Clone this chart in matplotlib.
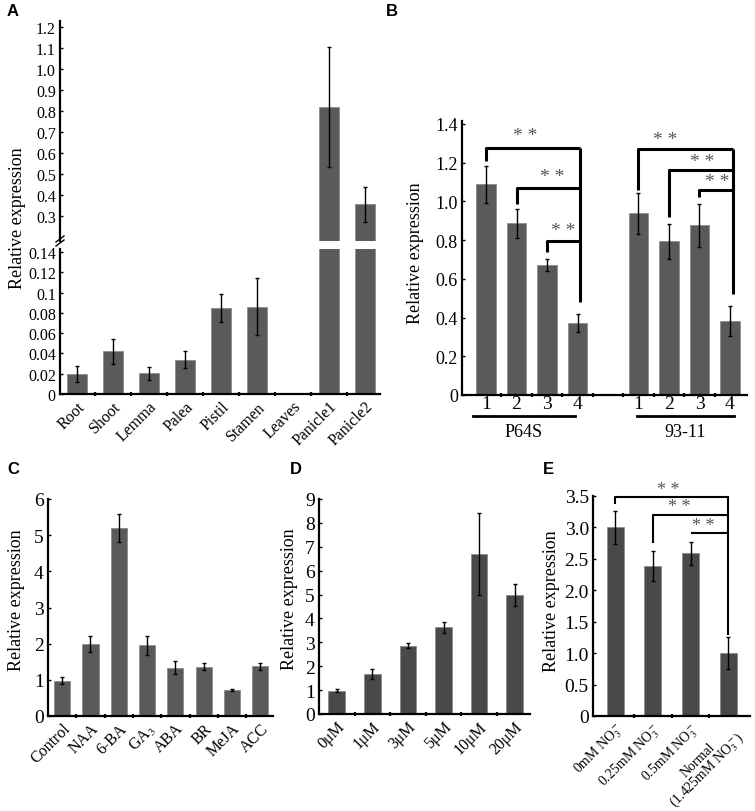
import numpy as np
import matplotlib
matplotlib.use("Agg")
import matplotlib.pyplot as plt
from matplotlib.lines import Line2D

W, H = 755, 812

# A: tissues
tissues = ["Root", "Shoot", "Lemma", "Palea", "Pistil", "Stamen", "Leaves", "Panicle1", "Panicle2"]
tissue_expr = [0.020, 0.042, 0.0205, 0.034, 0.085, 0.086, 0.0, 0.82, 0.355]
tissue_err = [0.008, 0.0125, 0.0066, 0.0085, 0.0135, 0.028, 0.0, 0.286, 0.083]

# B: P64S / 93-11, stages 1-4
stage_labels = ["1", "2", "3", "4", "1", "2", "3", "4"]
stage_pos = [0, 1, 2, 3, 5, 6, 7, 8]
stage_expr = [1.088, 0.886, 0.67, 0.371, 0.938, 0.794, 0.876, 0.381]
stage_err = [0.096, 0.075, 0.03, 0.047, 0.105, 0.09, 0.111, 0.078]
lines_b = ["P64S", "93-11"]

# C: hormones
hormones = ["Control", "NAA", "6-BA", "GA$_3$", "ABA", "BR", "MeJA", "ACC"]
hormone_expr = [0.98, 2.0, 5.2, 1.95, 1.34, 1.36, 0.72, 1.37]
hormone_err = [0.1, 0.22, 0.39, 0.26, 0.17, 0.1, 0.04, 0.1]

# D: 6-BA dose
doses = ["0\u03bcM", "1\u03bcM", "3\u03bcM", "5\u03bcM", "10\u03bcM", "20\u03bcM"]
dose_expr = [0.97, 1.67, 2.86, 3.63, 6.7, 4.98]
dose_err = [0.06, 0.22, 0.1, 0.23, 1.7, 0.46]

# E: nitrate
nitrate = ["0mM NO$_3^-$", "0.25mM NO$_3^-$", "0.5mM NO$_3^-$", "Normal\n(1.425mM NO$_3^-$)"]
nitrate_expr = [3.0, 2.38, 2.59, 1.0]
nitrate_err = [0.26, 0.24, 0.18, 0.25]

plt.rcParams["font.family"] = ["Liberation Serif", "DejaVu Serif"]
plt.rcParams["mathtext.fontset"] = "stix"

fig = plt.figure(figsize=(W / 100, H / 100), dpi=100)

BAR = "#5a5a5a"
BAR_DARK = "#494949"
EDGE = "#8c8c8c"
ERR = dict(ecolor="black", elinewidth=1, capsize=1.5, capthick=1)


def add_ax(x0, y0, x1, y1):
    return fig.add_axes([x0 / W, 1 - y1 / H, (x1 - x0) / W, (y1 - y0) / H])


def style(ax, n, ysize):
    for s in ("top", "right"):
        ax.spines[s].set_visible(False)
    for s in ("left", "bottom"):
        ax.spines[s].set_linewidth(1.6)
    ax.tick_params(axis="y", direction="in", length=2.5, width=1, labelsize=ysize, pad=3)
    ax.tick_params(axis="x", which="major", length=0, pad=3)
    ax.set_xticks(np.arange(n - 1) + 0.5, minor=True)
    ax.tick_params(axis="x", which="minor", direction="inout", length=3, width=1.6)


def ylabel(x, y, size=13):
    fig.text(x / W, 1 - y / H, "Relative expression", rotation=90,
             ha="center", va="center", fontsize=size)


def letter(x, y, s):
    fig.text(x / W, 1 - y / H, s, fontsize=12, fontweight="bold",
             family="Liberation Sans", ha="center", va="center")


# ---- A ----
xa = np.arange(len(tissues))
ax_hi = add_ax(60, 22, 380, 242)
ax_lo = add_ax(60, 250, 380, 395)
for ax in (ax_hi, ax_lo):
    ax.bar(xa, tissue_expr, 0.56, yerr=tissue_err, color=BAR, edgecolor=EDGE,
           linewidth=0.6, error_kw=ERR)
    ax.set_xlim(-0.47, 8.42)
    style(ax, len(tissues), 11.5)
ax_hi.set_ylim(0.18, 1.23)
ax_hi.set_yticks(np.arange(3, 13) / 10)
ax_hi.set_yticklabels([f"{v / 10:.1f}" for v in range(3, 13)])
ax_hi.spines["bottom"].set_visible(False)
ax_hi.set_xticks([])
ax_hi.set_xticks([], minor=True)
ax_lo.set_ylim(0, 0.143)
ax_lo.set_yticks(np.arange(0, 8) * 0.02)
ax_lo.set_yticklabels([f"{v * 0.02:g}" for v in range(0, 8)])
ax_lo.set_xticks(xa)
ax_lo.set_xticklabels(tissues, rotation=45, ha="right", rotation_mode="anchor", fontsize=11.5)
for dy in (0, 4):
    fig.add_artist(Line2D([56 / W, 64 / W], [1 - (247 - dy) / H, 1 - (241 - dy) / H],
                          transform=fig.transFigure, color="black", lw=1))
ylabel(18, 218)
letter(13, 12, "A")

# ---- B ----
ax_b = add_ax(462, 122, 747, 396)
ax_b.bar(stage_pos, stage_expr, 0.65, yerr=stage_err, color=BAR, edgecolor=EDGE,
         linewidth=0.6, error_kw=ERR)
ax_b.set_xlim(-0.79, 8.56)
ax_b.set_ylim(0, 1.415)
style(ax_b, 1, 13)
ax_b.set_xticks(np.arange(8) + 0.5, minor=True)
ax_b.set_yticks(np.arange(0, 8) * 0.2)
ax_b.set_yticklabels(["0"] + [f"{v * 0.2:.1f}" for v in range(1, 8)])
ax_b.set_xticks(stage_pos)
ax_b.set_xticklabels(stage_labels, fontsize=14)
ax_b.tick_params(axis="x", which="major", pad=0)

# brackets: (left x, left bottom, top y, right x)
b_brackets = [(0, 1.206, 1.273, 3.08), (1, 0.985, 1.07, 3.08), (2, 0.74, 0.794, 3.08),
              (5, 1.057, 1.268, 8.1), (6, 0.92, 1.16, 8.1), (7, 1.025, 1.057, 8.1)]
b_right = [(3.08, 1.273, 0.48), (8.1, 1.268, 0.52)]
b_stars = [(1.28, 1.338), (2.17, 1.126), (2.52, 0.847),
           (5.87, 1.322), (7.08, 1.204), (7.57, 1.10)]
for xl, yb, yt, xr in b_brackets:
    ax_b.plot([xl, xl, xr], [yb, yt, yt], color="black", lw=2.2, solid_capstyle="butt")
for xr, yt, yb in b_right:
    ax_b.plot([xr, xr], [yt, yb], color="black", lw=2.2, solid_capstyle="butt")
for xs, ys in b_stars:
    ax_b.text(xs, ys, "* *", ha="center", va="center", fontsize=14, color="#555555")
for (x0, x1), name in zip([(-0.43, 2.92), (4.95, 8.13)], lines_b):
    ax_b.plot([x0, x1], [-0.108, -0.108], color="black", lw=2, clip_on=False)
    ax_b.text((x0 + x1) / 2, -0.19, name, ha="center", va="center", fontsize=13)
ylabel(416, 253)
letter(392, 12, "B")

# ---- C ----
xc = np.arange(len(hormones))
ax_c = add_ax(48, 500, 273, 717)
ax_c.bar(xc, hormone_expr, 0.57, yerr=hormone_err, color=BAR, edgecolor=EDGE,
         linewidth=0.6, error_kw=ERR)
ax_c.set_xlim(-0.5, 7.45)
ax_c.set_ylim(0, 6)
style(ax_c, len(hormones), 14)
ax_c.set_yticks(range(7))
ax_c.set_xticks(xc)
ax_c.set_xticklabels(hormones, rotation=45, ha="right", rotation_mode="anchor", fontsize=11.5)
ylabel(17, 600)
letter(13, 470, "C")

# ---- D ----
xd = np.arange(len(doses))
ax_d = add_ax(319, 500, 530, 715)
ax_d.bar(xd, dose_expr, 0.47, yerr=dose_err, color=BAR_DARK, edgecolor=EDGE,
         linewidth=0.6, error_kw=ERR)
ax_d.set_xlim(-0.5, 5.43)
ax_d.set_ylim(0, 9)
style(ax_d, len(doses), 14)
ax_d.set_yticks(range(10))
ax_d.set_xticks(xd)
ax_d.set_xticklabels(doses, rotation=45, ha="right", rotation_mode="anchor", fontsize=11.5)
ylabel(290, 599)
letter(296, 470, "D")

# ---- E ----
xe = np.arange(len(nitrate))
ax_e = add_ax(593, 497, 750, 717)
ax_e.bar(xe, nitrate_expr, 0.45, yerr=nitrate_err, color=BAR_DARK, edgecolor=EDGE,
         linewidth=0.6, error_kw=ERR)
ax_e.set_xlim(-0.59, 3.58)
ax_e.set_ylim(0, 3.5)
style(ax_e, len(nitrate), 14)
ax_e.set_yticks(np.arange(0, 8) * 0.5)
ax_e.set_yticklabels(["0"] + [f"{v * 0.5:.1f}" for v in range(1, 8)])
ax_e.set_xticks(xe)
ax_e.set_xticklabels(nitrate, rotation=45, ha="right", rotation_mode="anchor",
                     fontsize=10, linespacing=0.85, multialignment="center")
e_brackets = [(0, 3.37, 3.48, 3), (1, 2.76, 3.2, 3), (2, 2.91, 2.91, 3)]
e_stars = [(1.40, 3.61), (1.71, 3.33), (2.35, 3.03)]
for xl, yb, yt, xr in e_brackets:
    ax_e.plot([xl, xl, xr], [yb, yt, yt], color="black", lw=1.5, clip_on=False,
              solid_capstyle="butt")
ax_e.plot([3, 3], [3.48, 1.31], color="black", lw=1.5, clip_on=False)
for xs, ys in e_stars:
    ax_e.text(xs, ys, "* *", ha="center", va="center", fontsize=13, color="#555555",
              clip_on=False)
ylabel(552, 601)
letter(548, 470, "E")

fig.savefig("out.png", dpi=100)
